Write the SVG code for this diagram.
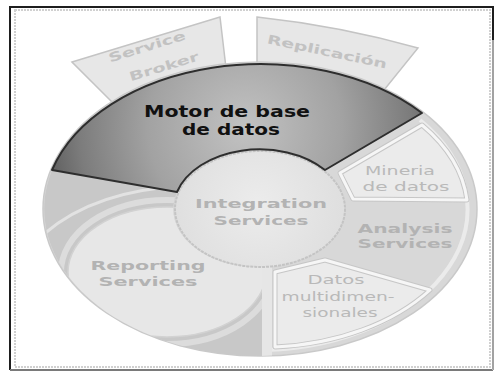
<svg xmlns="http://www.w3.org/2000/svg" width="495" height="372" viewBox="0 0 495 372">
  <defs>
    <radialGradient id="motorGrad" gradientUnits="userSpaceOnUse" cx="245" cy="128" r="195">
      <stop offset="0" stop-color="#c2c2c2"/>
      <stop offset="0.5" stop-color="#a2a2a2"/>
      <stop offset="0.85" stop-color="#7c7c7c"/>
      <stop offset="1" stop-color="#636363"/>
    </radialGradient>
    <radialGradient id="innerGrad" gradientUnits="userSpaceOnUse" cx="258" cy="205" r="90">
      <stop offset="0" stop-color="#ececec"/>
      <stop offset="1" stop-color="#dedede"/>
    </radialGradient>
    <clipPath id="leftClip">
      <path d="M52,170 A217 147 0 0 0 262,356 L262,267 A85 58 0 0 1 177,192 Z"/>
    </clipPath>
    <clipPath id="outerClip">
      <ellipse cx="260" cy="209" rx="217" ry="147"/>
    </clipPath>
  </defs>
  <style>
    .tab { fill: #e7e7e7; stroke: #c4c4c4; stroke-width: 1.5; }
    .tabtxt { font-family: "DejaVu Sans", Verdana, sans-serif; font-weight: bold; font-size: 12.5px; fill: #c2c2c2; text-anchor: middle; }
    .boxOut { fill: #ebebeb; stroke: #c6c6c6; stroke-width: 5; stroke-linejoin: round; }
    .boxIn { fill: none; stroke: #f6f6f6; stroke-width: 3; stroke-linejoin: round; }
    .bold { font-family: "DejaVu Sans", Verdana, sans-serif; font-weight: bold; text-anchor: middle; }
    .reg { font-family: "DejaVu Sans", Verdana, sans-serif; font-weight: normal; text-anchor: middle; }
    .graytxt { fill: #b3b3b3; font-size: 13px; }
    .lighttxt { fill: #b9b9b9; font-size: 12.5px; }
  </style>

  <!-- frame -->
  <g id="frame">
    <rect x="0" y="0" width="495" height="372" fill="#ffffff"/>
    <rect x="15" y="10" width="475" height="357" fill="none" stroke="#d0d0d0" stroke-width="2" stroke-dasharray="2 1"/>
    <path d="M10,370 L10,7 L493,7 L493,370" fill="none" stroke="#1e1e1e" stroke-width="2"/>
    <path d="M10,370 L493,370" fill="none" stroke="#7a7a7a" stroke-width="2"/>
    <path d="M493,40 L493,370" fill="none" stroke="#cfcfcf" stroke-width="1.5"/>
  </g>

  <!-- tabs behind the wheel -->
  <g id="service-broker">
    <path class="tab" d="M72,62 L220,17 L228,85 L122,112 Z"/>
    <text class="tabtxt" x="147" y="51" transform="rotate(-17 147 47)" textLength="80" lengthAdjust="spacingAndGlyphs">Service</text>
    <text class="tabtxt" x="164" y="71" transform="rotate(-17 164 67)" textLength="72" lengthAdjust="spacingAndGlyphs">Broker</text>
  </g>
  <g id="replicacion">
    <path class="tab" d="M257,17 Q340,26 418,48 L380,95 L257,95 Z"/>
    <text class="tabtxt" x="327" y="56" transform="rotate(12 327 52)" textLength="122" lengthAdjust="spacingAndGlyphs">Replicación</text>
  </g>

  <!-- wheel base -->
  <g id="wheel">
    <ellipse cx="260" cy="209" rx="217" ry="147" fill="#d8d8d8" stroke="#c9c9c9" stroke-width="1.5"/>
    <path d="M420,120 A211 141 0 0 1 266,350" fill="none" stroke="#ebebeb" stroke-width="4"/>
  </g>

  <!-- Reporting Services -->
  <g id="reporting-services">
    <path d="M52,170 A217 147 0 0 0 262,356 L262,267 A85 58 0 0 1 177,192 Z" fill="#c8c8c8"/>
    <g clip-path="url(#leftClip)">
      <path d="M44,234 Q95,190 185,186" fill="none" stroke="#e2e2e2" stroke-width="3"/>
      <ellipse cx="167" cy="272" rx="106" ry="72" fill="none" stroke="#dcdcdc" stroke-width="6"/>
      <ellipse cx="167" cy="272" rx="99" ry="65" fill="#e7e7e7" stroke="#d2d2d2" stroke-width="1.5"/>
    </g>
    <text class="bold graytxt" x="148" y="270" textLength="115" lengthAdjust="spacingAndGlyphs">Reporting</text>
    <text class="bold graytxt" x="148" y="286" textLength="99" lengthAdjust="spacingAndGlyphs">Services</text>
  </g>

  <!-- divider -->
  <g id="divider" clip-path="url(#outerClip)">
    <rect x="262" y="262" width="10" height="100" fill="#e6e6e6"/>
  </g>

  <!-- Analysis Services -->
  <g id="analysis-services">
    <text class="bold graytxt" x="405" y="233" textLength="95" lengthAdjust="spacingAndGlyphs">Analysis</text>
    <text class="bold graytxt" x="405" y="248" textLength="95" lengthAdjust="spacingAndGlyphs">Services</text>
  </g>

  <!-- Mineria de datos -->
  <g id="mineria-de-datos">
    <path class="boxOut" d="M422,125 L340,173 L353,199 L467,200 A209 140 0 0 0 422,125 Z"/>
    <path class="boxIn" d="M422,125 L340,173 L353,199 L467,200 A209 140 0 0 0 422,125 Z"/>
    <text class="reg lighttxt" x="400" y="175" textLength="70" lengthAdjust="spacingAndGlyphs">Mineria</text>
    <text class="reg lighttxt" x="406" y="191" textLength="87" lengthAdjust="spacingAndGlyphs">de datos</text>
  </g>

  <!-- Datos multidimensionales -->
  <g id="datos-multidimensionales">
    <path class="boxOut" d="M275,272 L325,260 L430,290 A209 140 0 0 1 275,347 Z"/>
    <path class="boxIn" d="M275,272 L325,260 L430,290 A209 140 0 0 1 275,347 Z"/>
    <text class="reg lighttxt" x="336" y="284" textLength="57" lengthAdjust="spacingAndGlyphs">Datos</text>
    <text class="reg lighttxt" x="338" y="301" textLength="113" lengthAdjust="spacingAndGlyphs">multidimen-</text>
    <text class="reg lighttxt" x="340" y="317" textLength="75" lengthAdjust="spacingAndGlyphs">sionales</text>
  </g>

  <!-- Integration Services -->
  <g id="integration-services">
    <ellipse cx="260" cy="209" rx="85" ry="58" fill="url(#innerGrad)" stroke="#c4c4c4" stroke-width="2" stroke-dasharray="3 1"/>
    <text class="bold graytxt" x="261" y="208" textLength="132" lengthAdjust="spacingAndGlyphs">Integration</text>
    <text class="bold graytxt" x="261" y="225" textLength="95" lengthAdjust="spacingAndGlyphs">Services</text>
  </g>

  <!-- Motor de base de datos -->
  <g id="motor-de-base-de-datos">
    <path d="M52,170 A217 147 0 0 1 422,113 L325,170 A86 59 0 0 0 177,192 Z" fill="url(#motorGrad)" stroke="#2e2e2e" stroke-width="2" stroke-linejoin="round"/>
    <text class="bold" x="227" y="117" font-size="15" fill="#111111" textLength="166" lengthAdjust="spacingAndGlyphs">Motor de base</text>
    <text class="bold" x="231" y="135" font-size="15" fill="#111111" textLength="98" lengthAdjust="spacingAndGlyphs">de datos</text>
  </g>

  <g id="connectors"/>
</svg>
